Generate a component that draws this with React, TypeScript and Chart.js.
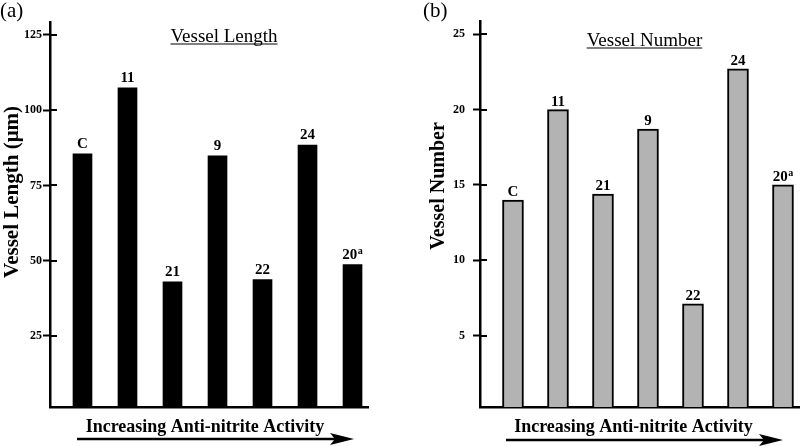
import React, { useEffect, useRef } from "react";
import { Chart, registerables } from "chart.js";

Chart.register(...registerables);

const categories = ["C", "11", "21", "9", "22", "24", "20"];
const superscripts = ["", "", "", "", "", "", "a"];
const positions = [0, 1, 2, 3, 4, 5, 6];
const vesselLength = [85.5, 107.4, 43.0, 84.8, 43.7, 88.4, 48.7];
const vesselNumber = [14.0, 20.0, 14.4, 18.7, 7.1, 22.7, 15.0];
const lengthTicks = [25, 50, 75, 100, 125];
const numberTicks = [5, 10, 15, 20, 25];

const SERIF = "'Liberation Serif', 'Times New Roman', serif";

type PanelCfg = {
  panelLabel: string;
  panelLabelX: number;
  title: string;
  titleX: number;
  titleY: number;
  yTitle: string;
  yTitleX: number;
  yTitleY: number;
  yTitleSize: number;
  xTitle: string;
  xTitleX: number;
  xTitleY: number;
  arrowX0: number;
  arrowX1: number;
  arrowY: number;
  labelGap: number;
};

function makePlugin(cfg: PanelCfg) {
  return {
    id: "panelDecor",
    afterDraw(chart: any) {
      const ctx = chart.ctx as CanvasRenderingContext2D;
      const area = chart.chartArea;
      const yScale = chart.scales.y;
      ctx.save();
      // inner halves of tick marks
      ctx.strokeStyle = "#000";
      ctx.lineWidth = 2;
      yScale.ticks.forEach((t: any) => {
        const py = Math.round(yScale.getPixelForValue(t.value));
        ctx.beginPath();
        ctx.moveTo(area.left, py);
        ctx.lineTo(area.left + 7, py);
        ctx.stroke();
      });
      // bar labels
      ctx.fillStyle = "#000";
      ctx.textBaseline = "alphabetic";
      ctx.textAlign = "left";
      const meta = chart.getDatasetMeta(0);
      meta.data.forEach((el: any, i: number) => {
        const main = categories[i];
        const sup = superscripts[i];
        ctx.font = `bold 15px ${SERIF}`;
        const mw = ctx.measureText(main).width;
        ctx.font = `bold 10px ${SERIF}`;
        const sw = sup ? ctx.measureText(sup).width + 0.5 : 0;
        const start = el.x - (mw + sw) / 2;
        const base = el.y - cfg.labelGap;
        ctx.font = `bold 15px ${SERIF}`;
        ctx.fillText(main, start, base);
        if (sup) {
          ctx.font = `bold 10px ${SERIF}`;
          ctx.fillText(sup, start + mw + 0.5, base - 5);
        }
      });
      // panel label
      ctx.font = `21px ${SERIF}`;
      ctx.fillText(cfg.panelLabel, cfg.panelLabelX, 17);
      // title with underline
      ctx.font = `19px ${SERIF}`;
      ctx.textAlign = "center";
      const tw = ctx.measureText(cfg.title).width;
      ctx.fillText(cfg.title, cfg.titleX, cfg.titleY);
      ctx.lineWidth = 1;
      ctx.beginPath();
      ctx.moveTo(cfg.titleX - tw / 2, cfg.titleY + 2.5);
      ctx.lineTo(cfg.titleX + tw / 2, cfg.titleY + 2.5);
      ctx.stroke();
      // y title
      ctx.save();
      ctx.translate(cfg.yTitleX, cfg.yTitleY);
      ctx.rotate(-Math.PI / 2);
      ctx.font = `bold ${cfg.yTitleSize}px ${SERIF}`;
      ctx.textBaseline = "middle";
      ctx.fillText(cfg.yTitle, 0, 0);
      ctx.restore();
      // x title
      ctx.font = `bold 18px ${SERIF}`;
      ctx.textAlign = "center";
      ctx.fillText(cfg.xTitle, cfg.xTitleX, cfg.xTitleY);
      // arrow
      ctx.lineWidth = 2.5;
      ctx.beginPath();
      ctx.moveTo(cfg.arrowX0, cfg.arrowY);
      ctx.lineTo(cfg.arrowX1 - 12, cfg.arrowY);
      ctx.stroke();
      ctx.beginPath();
      ctx.moveTo(cfg.arrowX1, cfg.arrowY);
      ctx.lineTo(cfg.arrowX1 - 24, cfg.arrowY - 6);
      ctx.lineTo(cfg.arrowX1 - 19, cfg.arrowY);
      ctx.lineTo(cfg.arrowX1 - 24, cfg.arrowY + 6);
      ctx.closePath();
      ctx.fill();
      ctx.restore();
    },
  };
}

type ChartSpec = {
  values: number[];
  ticks: number[];
  yMin: number;
  yMax: number;
  xMin: number;
  xMax: number;
  yWidth: number;
  padTop: number;
  padRight: number;
  tickPad: number;
  fill: string;
  border: number;
  barThickness: number;
  cfg: PanelCfg;
};

function Panel({ spec }: { spec: ChartSpec }) {
  const ref = useRef<HTMLCanvasElement | null>(null);
  useEffect(() => {
    if (!ref.current) return;
    const chart = new Chart(ref.current, {
      type: "bar",
      data: {
        datasets: [
          {
            data: positions.map((x, i) => ({ x, y: spec.values[i] })),
            backgroundColor: spec.fill,
            borderColor: "#000",
            borderWidth: spec.border,
            barThickness: spec.barThickness,
          } as any,
        ],
      },
      options: {
        responsive: false,
        animation: false,
        events: [],
        layout: { padding: { top: spec.padTop, right: spec.padRight, left: 0, bottom: 0 } },
        plugins: { legend: { display: false }, tooltip: { enabled: false }, title: { display: false } },
        font: { family: SERIF },
        scales: {
          x: {
            type: "linear",
            min: spec.xMin,
            max: spec.xMax,
            offset: false,
            z: 1,
            grid: { display: false, offset: false },
            ticks: { display: false },
            border: { display: true, color: "#000", width: 2.5 },
            afterFit: (s: any) => {
              s.height = 39;
            },
          },
          y: {
            type: "linear",
            min: spec.yMin,
            max: spec.yMax,
            z: 1,
            afterBuildTicks: (s: any) => {
              s.ticks = spec.ticks.map((v) => ({ value: v }));
            },
            afterFit: (s: any) => {
              s.width = spec.yWidth;
            },
            grid: {
              display: true,
              drawOnChartArea: false,
              drawTicks: true,
              tickLength: 7,
              tickWidth: 2,
              tickColor: "#000",
              color: "#000",
            },
            border: { display: true, color: "#000", width: 2.5 },
            ticks: {
              color: "#000",
              padding: spec.tickPad,
              font: { family: SERIF, size: 12, weight: "bold" },
              callback: (v: any) => String(v),
            },
          },
        },
      } as any,
      plugins: [makePlugin(spec.cfg)],
    });
    return () => chart.destroy();
  }, [spec]);
  return <canvas ref={ref} width={400} height={446} style={{ display: "block", width: 400, height: 446 }} />;
}

const leftSpec: ChartSpec = {
  values: vesselLength,
  ticks: lengthTicks,
  yMin: 1.4,
  yMax: 129.3,
  xMin: -0.722,
  xMax: 6.344,
  yWidth: 50,
  padTop: 22,
  padRight: 32,
  tickPad: 1,
  fill: "#000",
  border: 0,
  barThickness: 19,
  cfg: {
    panelLabel: "(a)",
    panelLabelX: 0,
    title: "Vessel Length",
    titleX: 224,
    titleY: 41.5,
    yTitle: "Vessel Length (\u03bcm)",
    yTitleX: 13,
    yTitleY: 192,
    yTitleSize: 21,
    xTitle: "Increasing Anti-nitrite Activity",
    xTitleX: 205,
    xTitleY: 432,
    arrowX0: 77,
    arrowX1: 354,
    arrowY: 439,
    labelGap: 6,
  },
};

const rightSpec: ChartSpec = {
  values: vesselNumber,
  ticks: numberTicks,
  yMin: 0.26,
  yMax: 25.88,
  xMin: -0.733,
  xMax: 6.378,
  yWidth: 80,
  padTop: 21,
  padRight: 0,
  tickPad: 8,
  fill: "#b3b3b3",
  border: 2,
  barThickness: 21,
  cfg: {
    panelLabel: "(b)",
    panelLabelX: 23,
    title: "Vessel Number",
    titleX: 244.5,
    titleY: 45.5,
    yTitle: "Vessel Number",
    yTitleX: 39,
    yTitleY: 186,
    yTitleSize: 20,
    xTitle: "Increasing Anti-nitrite Activity",
    xTitleX: 233.5,
    xTitleY: 432,
    arrowX0: 106,
    arrowX1: 383,
    arrowY: 440,
    labelGap: 4,
  },
};

export default function App() {
  return (
    <div style={{ position: "fixed", left: 0, top: 0, width: 800, height: 446, display: "flex", background: "#fff" }}>
      <Panel spec={leftSpec} />
      <Panel spec={rightSpec} />
    </div>
  );
}
